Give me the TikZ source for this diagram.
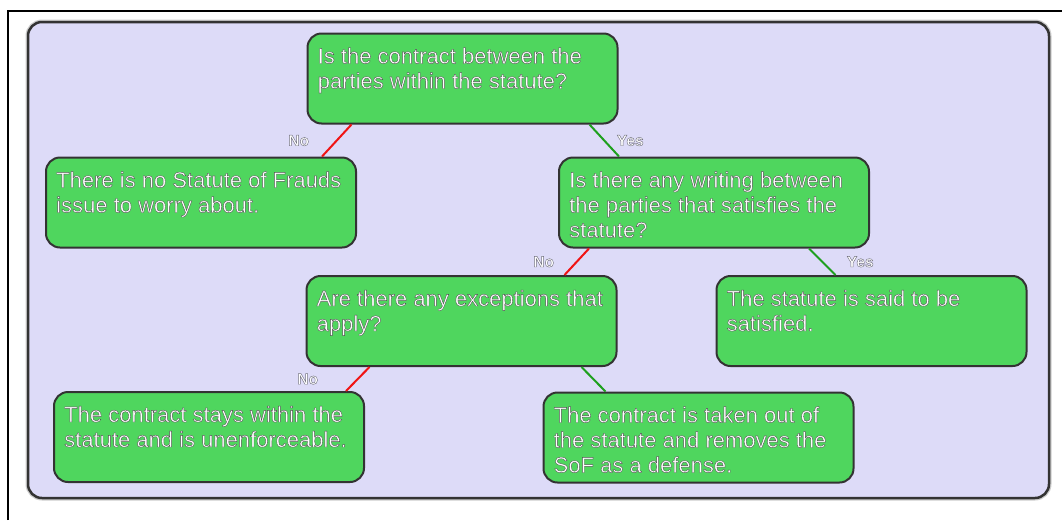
\documentclass[tikz,border=0pt]{standalone}
\usepackage{fontspec}
\setmainfont{Liberation Sans}

\definecolor{panelfill}{RGB}{221,219,248}
\definecolor{boxgreen}{RGB}{79,214,94}
\definecolor{boxline}{RGB}{51,51,51}
\definecolor{nored}{RGB}{240,20,20}
\definecolor{yesgreen}{RGB}{30,160,30}

% white letters with a thin dark rim (fill and stroke)
\newcommand{\glow}[1]{\special{pdf:literal direct 2 Tr 0.4 w 0.33 0.33 0.33 RG}#1\special{pdf:literal direct 0 Tr}}
\newcommand{\softglow}[1]{\special{pdf:literal direct 2 Tr 0.45 w 0.45 0.45 0.5 RG}#1\special{pdf:literal direct 0 Tr}}

\tikzset{
  decision/.style={draw=boxline, fill=boxgreen, line width=2pt, rounded corners=14pt,
    minimum width=310pt, minimum height=90pt, inner sep=0pt},
  boxtext/.style={anchor=base west, inner sep=0pt, align=left, text=white,
    font=\fontsize{22}{25}\selectfont},
  nobranch/.style={draw=nored, line width=2pt},
  yesbranch/.style={draw=yesgreen, line width=2pt},
  branchlabel/.style={text=white, inner sep=0pt, font=\bfseries\fontsize{15.5}{17}\selectfont}
}

\begin{document}
\begin{tikzpicture}[x=1pt,y=-1pt]
  \useasboundingbox (0,0) rectangle (1062,520);

  % Frame, only top and left edges show
  \draw[line width=2pt] (8,520) -- (8,11) -- (1062,11);

  % Panel with a soft edge
  \draw[black!20, line width=5pt, rounded corners=14pt] (28,22) rectangle (1049,498);
  \draw[fill=panelfill, draw=boxline, line width=2.5pt, rounded corners=14pt] (28,22) rectangle (1049,498);

  % Boxes
  \node[decision] (contract) at (462.5,78.5) {};
  \node[decision] (noissue) at (201,202.5) {};
  \node[decision] (writing) at (714,202.5) {};
  \node[decision] (exceptions) at (461.5,321) {};
  \node[decision] (satisfied) at (871.5,321) {};
  \node[decision] (stays) at (209,437) {};
  \node[decision] (takenout) at (698.5,437.5) {};

  % Texts, anchored at the baseline of their last line
  \node[boxtext] (contracttext) at ([xshift=11pt,yshift=-56pt]contract.north west)
    {\glow{Is the contract between the\\parties within the statute?}};
  \node[boxtext] (noissuetext) at ([xshift=11pt,yshift=-56pt]noissue.north west)
    {\glow{There is no Statute of Frauds\\issue to worry about.}};
  \node[boxtext] (writingtext) at ([xshift=11pt,yshift=-81pt]writing.north west)
    {\glow{Is there any writing between\\the parties that satisfies the\\statute?}};
  \node[boxtext] (exceptionstext) at ([xshift=11pt,yshift=-56pt]exceptions.north west)
    {\glow{Are there any exceptions that\\apply?}};
  \node[boxtext] (satisfiedtext) at ([xshift=11pt,yshift=-56pt]satisfied.north west)
    {\glow{The statute is said to be\\satisfied.}};
  \node[boxtext] (staystext) at ([xshift=11pt,yshift=-56pt]stays.north west)
    {\glow{The contract stays within the\\statute and is unenforceable.}};
  \node[boxtext] (takenouttext) at ([xshift=11pt,yshift=-81pt]takenout.north west)
    {\glow{The contract is taken out of\\the statute and removes the\\SoF as a defense.}};

  % Branches
  \draw[nobranch] ([xshift=45pt]contract.south west) -- ([xshift=277pt]noissue.north west)
    node[branchlabel, midway, xshift=-38pt] (nolabela) {\softglow{No}};
  \draw[yesbranch] ([xshift=283pt]contract.south west) -- ([xshift=61pt]writing.north west)
    node[branchlabel, midway, xshift=26pt] (yeslabela) {\softglow{Yes}};
  \draw[nobranch] ([xshift=31pt]writing.south west) -- ([xshift=259pt]exceptions.north west)
    node[branchlabel, midway, xshift=-33pt] (nolabelb) {\softglow{No}};
  \draw[yesbranch] ([xshift=251pt]writing.south west) -- ([xshift=120pt]satisfied.north west)
    node[branchlabel, midway, xshift=38pt] (yeslabelb) {\softglow{Yes}};
  \draw[nobranch] ([xshift=64pt]exceptions.south west) -- ([xshift=293pt]stays.north west)
    node[branchlabel, midway, xshift=-50pt] (nolabelc) {\softglow{No}};
  \draw[yesbranch] ([xshift=276pt]exceptions.south west) -- ([xshift=63pt]takenout.north west);
\end{tikzpicture}
\end{document}
